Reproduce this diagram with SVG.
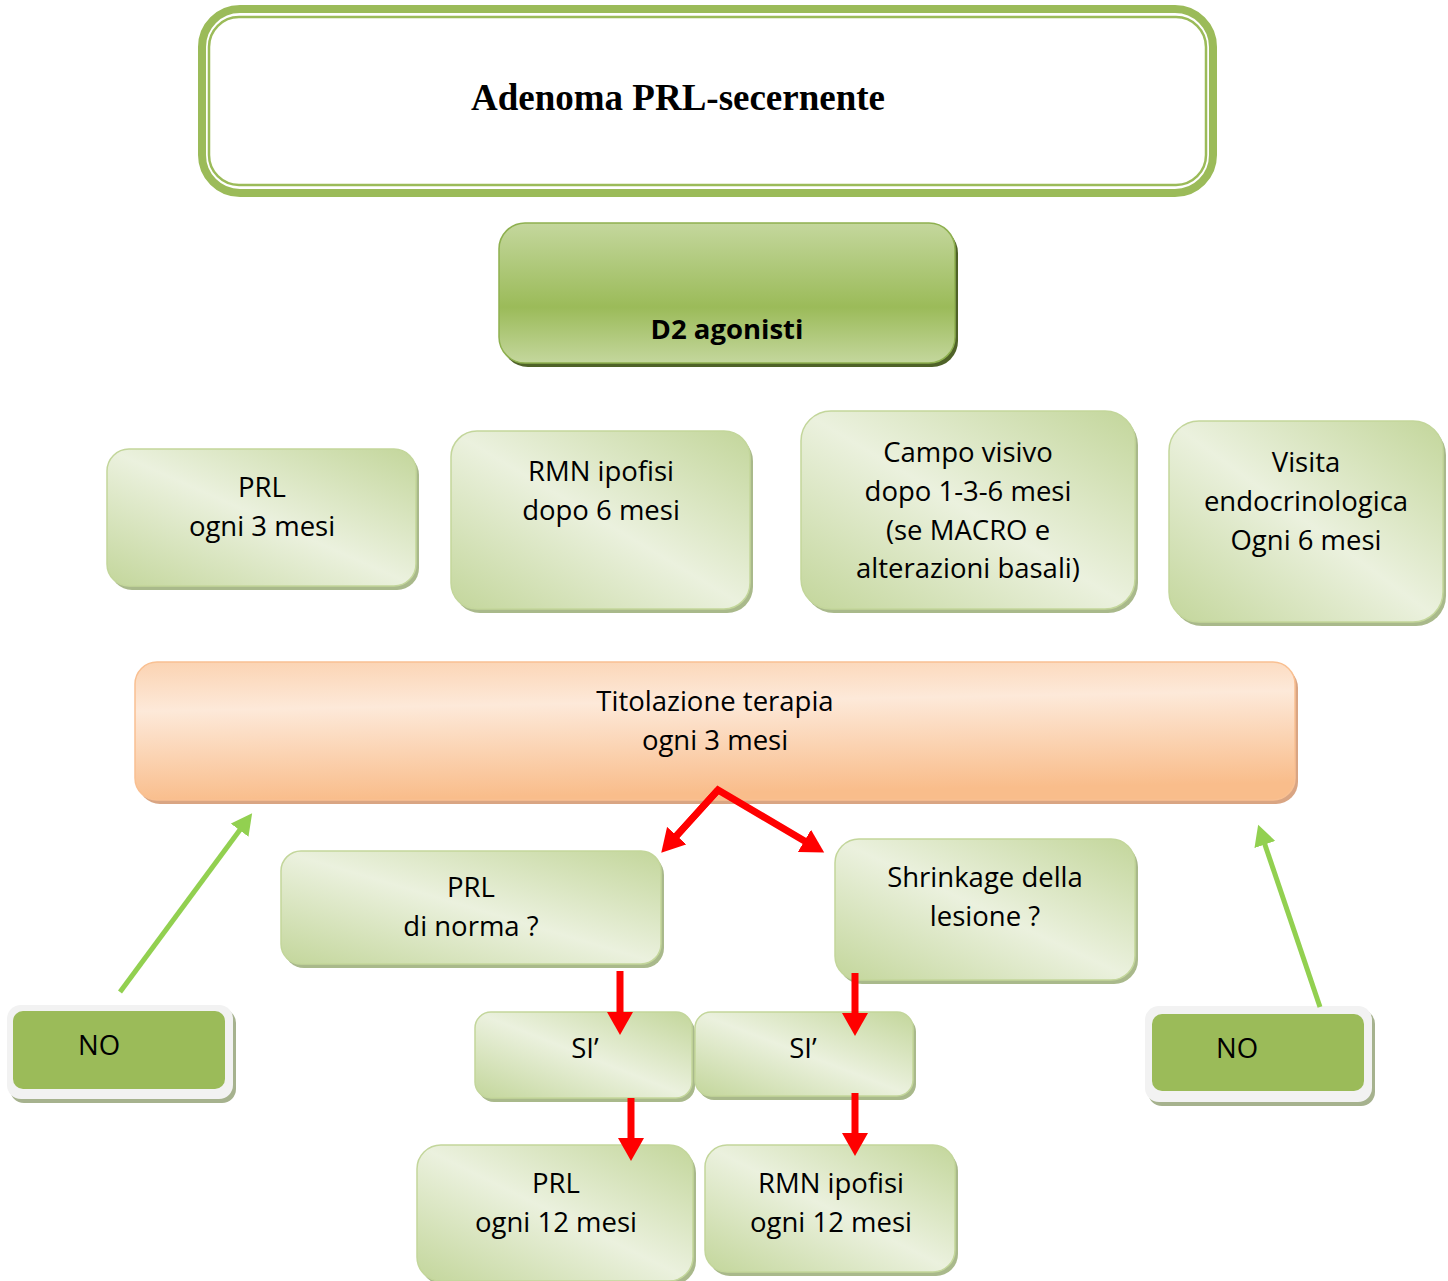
<svg xmlns="http://www.w3.org/2000/svg" width="1448" height="1281" viewBox="0 0 1448 1281">
<defs>
<style>
.t{font-family:"Open Sans",Carlito,Lato,"Liberation Sans",sans-serif;font-size:27.5px;fill:#000;text-anchor:middle}
.lg{fill:url(#gLight);stroke:#c3d69b;stroke-width:1.5}
.lgs{fill:#a9b98b}
.red{stroke:#ff0000;stroke-width:7;fill:none}
.grn{stroke:#92d050;stroke-width:5;fill:none}
</style>
<linearGradient id="gLight" x1="0" y1="1" x2="1" y2="0">
<stop offset="0" stop-color="#c3d69b"/>
<stop offset="0.5" stop-color="#ebf1de"/>
<stop offset="1" stop-color="#c3d69b"/>
</linearGradient>
<linearGradient id="gD2" x1="0" y1="0" x2="0" y2="1">
<stop offset="0" stop-color="#c4d79d"/>
<stop offset="0.6" stop-color="#9bbb59"/>
<stop offset="1" stop-color="#c4d79d"/>
</linearGradient>
<linearGradient id="gOr" x1="0" y1="0" x2="0.15" y2="1">
<stop offset="0" stop-color="#fbd3b2"/>
<stop offset="0.35" stop-color="#fde9d9"/>
<stop offset="1" stop-color="#f9bd8b"/>
</linearGradient>
<marker id="mRed" markerUnits="userSpaceOnUse" markerWidth="24" markerHeight="26" refX="10" refY="13" orient="auto">
<path d="M0,0 L23,13 L0,26 z" fill="#ff0000"/>
</marker>
<marker id="mGrn" markerUnits="userSpaceOnUse" markerWidth="22" markerHeight="22" refX="9" refY="11" orient="auto">
<path d="M0,0 L21,11 L0,22 z" fill="#92d050"/>
</marker>
</defs>
<rect width="1448" height="1281" fill="#fff"/>

<g id="title">
<rect x="202" y="9" width="1011" height="184" rx="38" fill="#fff" stroke="#9bbb59" stroke-width="8"/>
<rect x="209" y="17" width="997" height="168" rx="30" fill="none" stroke="#9bbb59" stroke-width="2.5"/>
<text x="678" y="110" font-family="'Liberation Serif','Times New Roman',serif" font-size="37" font-weight="bold" text-anchor="middle">Adenoma PRL-secernente</text>
</g>

<g id="d2">
<rect x="502" y="227" width="456" height="140" rx="26" fill="#4f6228"/>
<rect x="499" y="223" width="456" height="140" rx="26" fill="url(#gD2)" stroke="#8eb04f" stroke-width="1.5"/>
<text class="t" x="727" y="339" font-weight="bold" font-size="28">D2 agonisti</text>
</g>

<g id="prl3">
<rect class="lgs" x="110" y="453" width="309" height="137" rx="22"/>
<rect class="lg" x="107" y="449" width="309" height="137" rx="22"/>
<text class="t" x="262" y="497">PRL</text>
<text class="t" x="262" y="536">ogni 3 mesi</text>
</g>

<g id="rmn6">
<rect class="lgs" x="454" y="435" width="299" height="178" rx="26"/>
<rect class="lg" x="451" y="431" width="299" height="178" rx="26"/>
<text class="t" x="601" y="481">RMN ipofisi</text>
<text class="t" x="601" y="520">dopo 6 mesi</text>
</g>

<g id="campo">
<rect class="lgs" x="804" y="415" width="334" height="198" rx="30"/>
<rect class="lg" x="801" y="411" width="334" height="198" rx="30"/>
<text class="t" x="968" y="462">Campo visivo</text>
<text class="t" x="968" y="501">dopo 1-3-6 mesi</text>
<text class="t" x="968" y="540">(se MACRO e</text>
<text class="t" x="968" y="578">alterazioni basali)</text>
</g>

<g id="visita">
<rect class="lgs" x="1172" y="425" width="274" height="201" rx="30"/>
<rect class="lg" x="1169" y="421" width="274" height="201" rx="30"/>
<text class="t" x="1306" y="472">Visita</text>
<text class="t" x="1306" y="511">endocrinologica</text>
<text class="t" x="1306" y="550">Ogni 6 mesi</text>
</g>

<g id="titolazione">
<rect x="138" y="666" width="1160" height="138" rx="22" fill="#d9a583"/>
<rect x="135" y="662" width="1160" height="138" rx="22" fill="url(#gOr)" stroke="#f9c092" stroke-width="1.5"/>
<text class="t" x="715" y="711">Titolazione terapia</text>
<text class="t" x="715" y="750">ogni 3 mesi</text>
</g>

<g id="prlnorma">
<rect class="lgs" x="284" y="855" width="380" height="113" rx="20"/>
<rect class="lg" x="281" y="851" width="380" height="113" rx="20"/>
<text class="t" x="471" y="897">PRL</text>
<text class="t" x="471" y="936">di norma ?</text>
</g>

<g id="shrinkage">
<rect class="lgs" x="838" y="843" width="300" height="141" rx="24"/>
<rect class="lg" x="835" y="839" width="300" height="141" rx="24"/>
<text class="t" x="985" y="887">Shrinkage della</text>
<text class="t" x="985" y="926">lesione ?</text>
</g>

<g id="si1">
<rect class="lgs" x="478" y="1016" width="217" height="86" rx="16"/>
<rect class="lg" x="475" y="1012" width="217" height="86" rx="16"/>
<text class="t" x="585" y="1058">SI’</text>
</g>

<g id="si2">
<rect class="lgs" x="698" y="1016" width="218" height="84" rx="16"/>
<rect class="lg" x="695" y="1012" width="218" height="84" rx="16"/>
<text class="t" x="803" y="1058">SI’</text>
</g>

<g id="prl12">
<rect class="lgs" x="420" y="1149" width="276" height="136" rx="24"/>
<rect class="lg" x="417" y="1145" width="276" height="136" rx="24"/>
<text class="t" x="556" y="1193">PRL</text>
<text class="t" x="556" y="1232">ogni 12 mesi</text>
</g>

<g id="rmn12">
<rect class="lgs" x="708" y="1149" width="250" height="127" rx="22"/>
<rect class="lg" x="705" y="1145" width="250" height="127" rx="22"/>
<text class="t" x="831" y="1193">RMN ipofisi</text>
<text class="t" x="831" y="1232">ogni 12 mesi</text>
</g>

<g id="no1">
<rect x="10" y="1009" width="226" height="94" rx="14" fill="#a6b28e"/>
<rect x="7" y="1005" width="226" height="94" rx="14" fill="#f2f2f2"/>
<rect x="13" y="1011" width="212" height="78" rx="10" fill="#9bbb59"/>
<text class="t" x="99" y="1055">NO</text>
</g>

<g id="no2">
<rect x="1148" y="1010" width="227" height="96" rx="14" fill="#a6b28e"/>
<rect x="1145" y="1006" width="227" height="96" rx="14" fill="#f2f2f2"/>
<rect x="1152" y="1014" width="212" height="77" rx="10" fill="#9bbb59"/>
<text class="t" x="1237" y="1058">NO</text>
</g>

<g id="connectors">
<polyline class="red" points="670,843 718,790 813,846" stroke-linejoin="miter" marker-end="url(#mRed)"/>
<line class="red" x1="718" y1="790" x2="670" y2="843" marker-end="url(#mRed)"/>
<line class="red" x1="620" y1="971" x2="620" y2="1022" marker-end="url(#mRed)"/>
<line class="red" x1="855" y1="973" x2="855" y2="1023" marker-end="url(#mRed)"/>
<line class="red" x1="631" y1="1098" x2="631" y2="1148" marker-end="url(#mRed)"/>
<line class="red" x1="855" y1="1093" x2="855" y2="1143" marker-end="url(#mRed)"/>
<line class="grn" x1="120" y1="992" x2="245" y2="823" marker-end="url(#mGrn)"/>
<line class="grn" x1="1320" y1="1007" x2="1262" y2="836" marker-end="url(#mGrn)"/>
</g>
</svg>
